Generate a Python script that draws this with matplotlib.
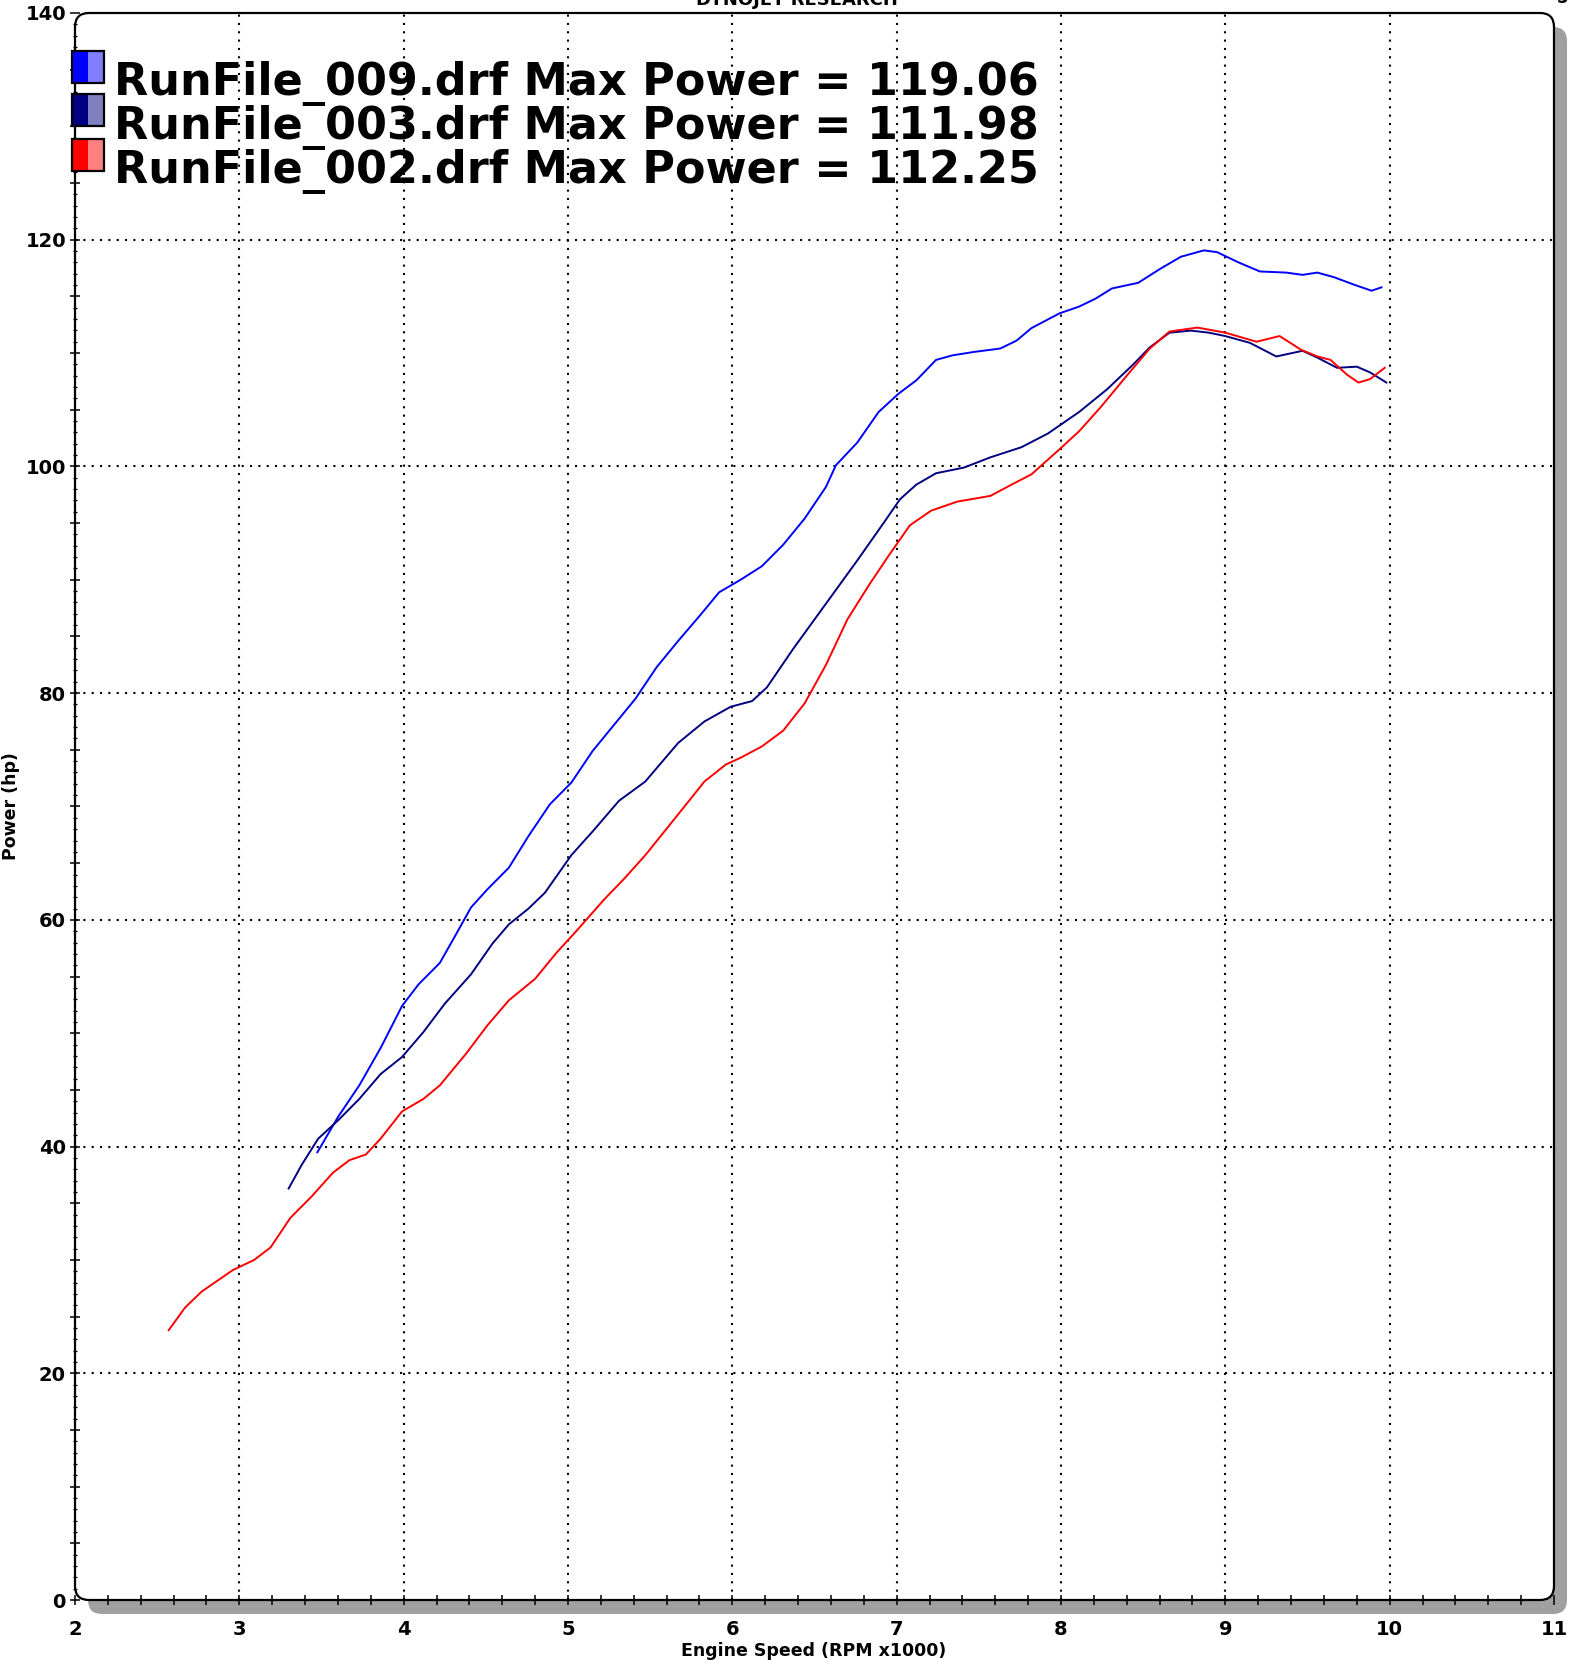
import matplotlib
matplotlib.use("Agg")
import matplotlib.pyplot as plt
from matplotlib.patches import FancyBboxPatch, Rectangle
from matplotlib.ticker import MultipleLocator, FuncFormatter

# ---------------- data ----------------
rpm_009 = [3.475, 3.60, 3.73, 3.86, 3.99, 4.09, 4.22, 4.31, 4.41, 4.51, 4.64, 4.76, 4.89,
           5.02, 5.15, 5.28, 5.41, 5.54, 5.67, 5.80, 5.92, 6.05, 6.18, 6.31, 6.44, 6.57,
           6.63, 6.76, 6.89, 7.01, 7.12, 7.24, 7.34, 7.47, 7.63, 7.73, 7.82, 7.99, 8.11,
           8.21, 8.31, 8.47, 8.60, 8.73, 8.87, 8.95, 9.08, 9.21, 9.37, 9.47, 9.56, 9.66,
           9.79, 9.89, 9.95]
hp_009 = [39.5, 42.6, 45.4, 48.7, 52.4, 54.3, 56.2, 58.5, 61.1, 62.7, 64.6, 67.4, 70.2,
          72.1, 74.9, 77.2, 79.5, 82.3, 84.6, 86.8, 88.9, 90.0, 91.2, 93.1, 95.4, 98.2,
          100.1, 102.1, 104.8, 106.4, 107.6, 109.4, 109.8, 110.1, 110.4, 111.1, 112.2, 113.5, 114.1,
          114.8, 115.7, 116.2, 117.4, 118.5, 119.06, 118.9, 118.0, 117.2, 117.1, 116.9, 117.1, 116.7,
          116.0, 115.5, 115.8]

rpm_003 = [3.30, 3.38, 3.48, 3.60, 3.73, 3.86, 3.99, 4.12, 4.25, 4.41, 4.54, 4.64, 4.76,
           4.86, 5.02, 5.15, 5.31, 5.47, 5.67, 5.83, 5.99, 6.12, 6.21, 6.37, 6.57, 6.76,
           6.92, 7.02, 7.12, 7.24, 7.41, 7.57, 7.76, 7.92, 8.11, 8.28, 8.44, 8.54, 8.66,
           8.79, 8.90, 9.00, 9.15, 9.31, 9.47, 9.56, 9.68, 9.80, 9.88, 9.98]
hp_003 = [36.3, 38.4, 40.7, 42.3, 44.2, 46.4, 47.9, 50.1, 52.6, 55.2, 57.9, 59.6, 61.0,
          62.4, 65.7, 67.8, 70.5, 72.2, 75.6, 77.5, 78.8, 79.3, 80.5, 83.9, 87.9, 91.7,
          95.0, 97.1, 98.4, 99.4, 99.9, 100.8, 101.7, 102.9, 104.8, 106.8, 109.0, 110.5, 111.8,
          111.98, 111.8, 111.5, 110.9, 109.7, 110.2, 109.6, 108.7, 108.8, 108.3, 107.4]

rpm_002 = [2.57, 2.67, 2.77, 2.86, 2.96, 3.09, 3.19, 3.31, 3.44, 3.57, 3.67, 3.77, 3.86,
           3.99, 4.12, 4.22, 4.38, 4.51, 4.64, 4.80, 4.93, 5.05, 5.22, 5.34, 5.47, 5.67,
           5.83, 5.96, 6.05, 6.18, 6.31, 6.44, 6.57, 6.70, 6.83, 6.95, 7.08, 7.21, 7.37,
           7.57, 7.70, 7.82, 7.99, 8.11, 8.24, 8.40, 8.54, 8.66, 8.83, 9.00, 9.19, 9.33,
           9.46, 9.56, 9.64, 9.74, 9.81, 9.88, 9.97]
hp_002 = [23.8, 25.8, 27.2, 28.1, 29.1, 30.0, 31.1, 33.7, 35.6, 37.7, 38.8, 39.3, 40.7,
          43.1, 44.2, 45.4, 48.2, 50.7, 52.9, 54.8, 57.1, 59.0, 61.8, 63.6, 65.7, 69.3,
          72.2, 73.7, 74.3, 75.3, 76.7, 79.1, 82.5, 86.5, 89.5, 92.1, 94.8, 96.1, 96.9,
          97.4, 98.4, 99.3, 101.5, 103.1, 105.2, 108.0, 110.4, 111.9, 112.25, 111.8, 111.0, 111.5,
          110.3, 109.7, 109.4, 108.1, 107.4, 107.7, 108.7]

legend_labels = ["RunFile_009.drf Max Power = 119.06",
                 "RunFile_003.drf Max Power = 111.98",
                 "RunFile_002.drf Max Power = 112.25"]
line_colors = ["#0000ff", "#000080", "#ff0000"]
light_colors = ["#8080ff", "#8080c0", "#ff8080"]

# ---------------- layout (pixels) ----------------
W, H = 1580, 1660
DPI = 100
L, R, T, B = 75, 1554, 13, 1600   # axes box in pixel coords (from top)

plt.rcParams['font.family'] = ['DejaVu Sans']
fig = plt.figure(figsize=(W / DPI, H / DPI), dpi=DPI)
fig.patch.set_facecolor("white")

ax = fig.add_axes([L / W, 1 - B / H, (R - L) / W, (B - T) / H])
ax.patch.set_visible(False)
for s in ax.spines.values():
    s.set_visible(False)

px = fig.dpi_scale_trans  # inches
def inch(v):
    return v / DPI

# shadow, face and border of the rounded frame
shadow = FancyBboxPatch((inch(L + 13), inch(H - B - 14)), inch(R - L), inch(B - T),
                        boxstyle="round,pad=0,rounding_size=0.14", transform=px,
                        facecolor="#a0a0a0", edgecolor="none", zorder=-3)
fig.patches.append(shadow)
face = FancyBboxPatch((inch(L), inch(H - B)), inch(R - L), inch(B - T),
                      boxstyle="round,pad=0,rounding_size=0.14", transform=px,
                      facecolor="white", edgecolor="none", zorder=-2)
fig.patches.append(face)
border = FancyBboxPatch((inch(L), inch(H - B)), inch(R - L), inch(B - T),
                        boxstyle="round,pad=0,rounding_size=0.14", transform=px,
                        facecolor="none", edgecolor="black", linewidth=1.6, zorder=5)
fig.patches.append(border)

# data lines
ax.plot(rpm_009, hp_009, color=line_colors[0], lw=1.4, zorder=3)
ax.plot(rpm_003, hp_003, color=line_colors[1], lw=1.4, zorder=3)
ax.plot(rpm_002, hp_002, color=line_colors[2], lw=1.4, zorder=3)

ax.set_xlim(2, 11)
ax.set_ylim(0, 140)

# ticks
ax.xaxis.set_major_locator(MultipleLocator(1))
ax.xaxis.set_minor_locator(MultipleLocator(0.2))
ax.yaxis.set_major_locator(MultipleLocator(5))
ax.yaxis.set_minor_locator(MultipleLocator(1))
ax.yaxis.set_major_formatter(FuncFormatter(lambda v, p: f"{int(round(v))}" if int(round(v)) % 20 == 0 else ""))
ax.xaxis.set_major_formatter(FuncFormatter(lambda v, p: f"{int(round(v))}"))

ax.tick_params(axis='x', which='major', direction='inout', length=7.5, width=1.1,
               labelsize=14, pad=10.5)
ax.tick_params(axis='x', which='minor', direction='inout', length=7.5, width=1.1)
ax.tick_params(axis='y', which='major', direction='inout', length=7, width=1.1,
               labelsize=14, pad=3)
ax.tick_params(axis='y', which='minor', direction='inout', length=2.5, width=0.9)
for lab in ax.get_xticklabels() + ax.get_yticklabels():
    lab.set_fontweight('bold')

# dotted grid
for gx in range(3, 11):
    ax.axvline(gx, color="black", lw=1.5, linestyle=(0, (1, 3)), zorder=1)
for gy in range(20, 140, 20):
    ax.axhline(gy, color="black", lw=1.5, linestyle=(0, (1, 3)), zorder=1)

# axis titles
fig.text(814 / W, 1 - 1651 / H, "Engine Speed (RPM x1000)", ha="center", va="center",
         fontsize=12.5, fontweight="bold")
fig.text(11 / W, 1 - 806 / H, "Power (hp)", ha="center", va="center", rotation=90,
         fontsize=12.5, fontweight="bold")

# header text, cut off at the top edge as in the reference
fig.text(797 / W, 1 - 5 / H, "DYNOJET RESEARCH", ha="center", va="baseline",
         fontsize=13, fontweight="bold")
fig.text(1562 / W, 1 - 3 / H, "5", ha="center", va="baseline", fontsize=12, fontweight="bold")

# legend
sq_tops = [51, 94, 139]
baselines = [95, 139, 183]
for i in range(3):
    top = sq_tops[i]
    hgt = 32
    fig.patches.append(Rectangle((inch(72), inch(H - top - hgt)), inch(16), inch(hgt),
                                 transform=px, facecolor=line_colors[i], edgecolor="none", zorder=6))
    fig.patches.append(Rectangle((inch(88), inch(H - top - hgt)), inch(16), inch(hgt),
                                 transform=px, facecolor=light_colors[i], edgecolor="none", zorder=6))
    fig.patches.append(Rectangle((inch(72), inch(H - top - hgt)), inch(32), inch(hgt),
                                 transform=px, facecolor="none", edgecolor="black", lw=1.6, zorder=7))
    fig.text(114 / W, 1 - baselines[i] / H, legend_labels[i], ha="left", va="baseline",
             fontsize=32, fontweight="bold", zorder=8)

fig.savefig("out.png", dpi=DPI, facecolor="white")
